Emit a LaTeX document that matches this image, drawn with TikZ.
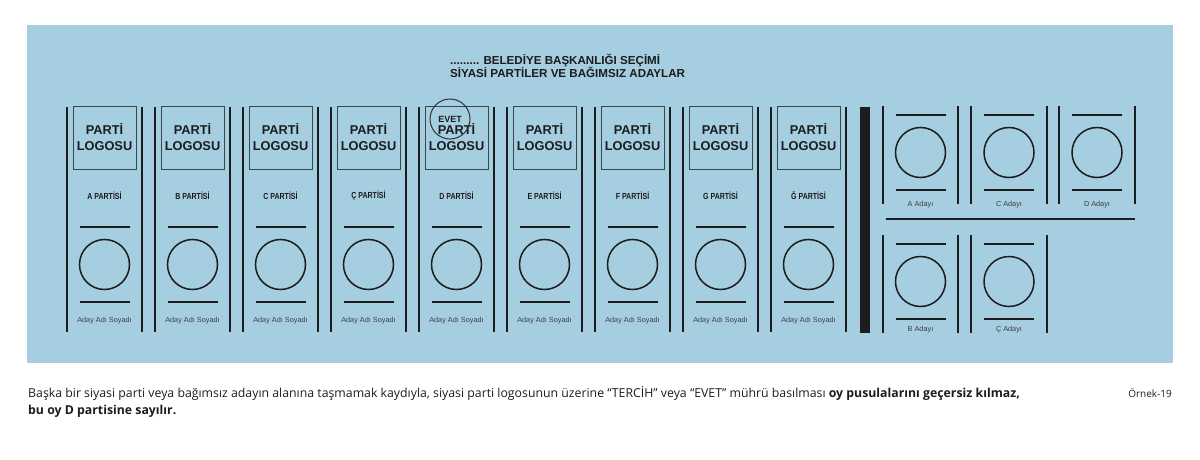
\documentclass[tikz,border=0pt]{standalone}
\usepackage{fontspec}
\setmainfont{Liberation Sans}
\newfontfamily\notefont{Open Sans}
\usepackage{tikz}

\definecolor{panelblue}{RGB}{166,206,225}
\definecolor{ink}{RGB}{28,28,28}
\definecolor{boxline}{RGB}{55,70,80}

\begin{document}
\begin{tikzpicture}[x=1pt, y=-1pt,
  bar/.style={ink, line width=1.8pt},
  logo/.style={draw=boxline, line width=.7pt, rectangle, minimum width=63pt, minimum height=63pt, inner sep=0pt, align=center, text=ink, font=\bfseries\fontsize{12.8}{16}\selectfont},
  parti/.style={inner sep=0pt, text=ink, font=\bfseries\fontsize{8.8}{10}\selectfont},
  oy/.style={draw=ink, line width=1.5pt, circle, minimum size=50pt, inner sep=0pt},
  aday/.style={inner sep=0pt, text=ink!85, font=\fontsize{7.3}{8}\selectfont},
  evet/.style={draw=ink!90, line width=1pt, circle, minimum size=40pt, inner sep=0pt, text=ink, font=\bfseries\fontsize{9}{10}\selectfont},
  title/.style={inner sep=0pt, align=left, text=ink, font=\bfseries\fontsize{11.6}{13}\selectfont},
  note/.style={inner sep=0pt, align=left, text=ink, font=\notefont\fontsize{12.3}{17}\selectfont}]
\useasboundingbox (0,0) rectangle (1200,460);
\fill[panelblue] (27,25) rectangle (1173,363);

\node[title, anchor=west] (title) at (450,65.5) {......... BELEDİYE BAŞKANLIĞI SEÇİMİ\\SİYASİ PARTİLER VE BAĞIMSIZ ADAYLAR};

% A
\draw[bar] (67,107) -- (67,332) (142,107) -- (142,332);
\node[logo] (logoA) at (104.5,137.5) {PARTİ\\LOGOSU};
\node[parti] (partiA) at (104.5,196) {\scalebox{.8}[1]{A PARTİSİ}};
\draw[bar] (79.5,227) -- (129.5,227) (79.5,302) -- (129.5,302);
\node[oy] (oyA) at (104.5,264.5) {};
\node[aday] (adayA) at (104.5,321) {Aday Adı Soyadı};
% B
\draw[bar] (155,107) -- (155,332) (230,107) -- (230,332);
\node[logo] (logoB) at (192.5,137.5) {PARTİ\\LOGOSU};
\node[parti] (partiB) at (192.5,196) {\scalebox{.8}[1]{B PARTİSİ}};
\draw[bar] (167.5,227) -- (217.5,227) (167.5,302) -- (217.5,302);
\node[oy] (oyB) at (192.5,264.5) {};
\node[aday] (adayB) at (192.5,321) {Aday Adı Soyadı};
% C
\draw[bar] (243,107) -- (243,332) (318,107) -- (318,332);
\node[logo] (logoC) at (280.5,137.5) {PARTİ\\LOGOSU};
\node[parti] (partiC) at (280.5,196) {\scalebox{.8}[1]{C PARTİSİ}};
\draw[bar] (255.5,227) -- (305.5,227) (255.5,302) -- (305.5,302);
\node[oy] (oyC) at (280.5,264.5) {};
\node[aday] (adayC) at (280.5,321) {Aday Adı Soyadı};
% Ç
\draw[bar] (331,107) -- (331,332) (406,107) -- (406,332);
\node[logo] (logoCc) at (368.5,137.5) {PARTİ\\LOGOSU};
\node[parti] (partiCc) at (368.5,196) {\scalebox{.8}[1]{Ç PARTİSİ}};
\draw[bar] (343.5,227) -- (393.5,227) (343.5,302) -- (393.5,302);
\node[oy] (oyCc) at (368.5,264.5) {};
\node[aday] (adayCc) at (368.5,321) {Aday Adı Soyadı};
% D
\draw[bar] (419,107) -- (419,332) (494,107) -- (494,332);
\node[logo] (logoD) at (456.5,137.5) {PARTİ\\LOGOSU};
\node[evet] (evet) at (450,119) {EVET};
\node[parti] (partiD) at (456.5,196) {\scalebox{.8}[1]{D PARTİSİ}};
\draw[bar] (431.5,227) -- (481.5,227) (431.5,302) -- (481.5,302);
\node[oy] (oyD) at (456.5,264.5) {};
\node[aday] (adayD) at (456.5,321) {Aday Adı Soyadı};
% E
\draw[bar] (507,107) -- (507,332) (582,107) -- (582,332);
\node[logo] (logoE) at (544.5,137.5) {PARTİ\\LOGOSU};
\node[parti] (partiE) at (544.5,196) {\scalebox{.8}[1]{E PARTİSİ}};
\draw[bar] (519.5,227) -- (569.5,227) (519.5,302) -- (569.5,302);
\node[oy] (oyE) at (544.5,264.5) {};
\node[aday] (adayE) at (544.5,321) {Aday Adı Soyadı};
% F
\draw[bar] (595,107) -- (595,332) (670,107) -- (670,332);
\node[logo] (logoF) at (632.5,137.5) {PARTİ\\LOGOSU};
\node[parti] (partiF) at (632.5,196) {\scalebox{.8}[1]{F PARTİSİ}};
\draw[bar] (607.5,227) -- (657.5,227) (607.5,302) -- (657.5,302);
\node[oy] (oyF) at (632.5,264.5) {};
\node[aday] (adayF) at (632.5,321) {Aday Adı Soyadı};
% G
\draw[bar] (683,107) -- (683,332) (758,107) -- (758,332);
\node[logo] (logoG) at (720.5,137.5) {PARTİ\\LOGOSU};
\node[parti] (partiG) at (720.5,196) {\scalebox{.8}[1]{G PARTİSİ}};
\draw[bar] (695.5,227) -- (745.5,227) (695.5,302) -- (745.5,302);
\node[oy] (oyG) at (720.5,264.5) {};
\node[aday] (adayG) at (720.5,321) {Aday Adı Soyadı};
% Ğ
\draw[bar] (771,107) -- (771,332) (846,107) -- (846,332);
\node[logo] (logoGg) at (808.5,137.5) {PARTİ\\LOGOSU};
\node[parti] (partiGg) at (808.5,196) {\scalebox{.8}[1]{Ğ PARTİSİ}};
\draw[bar] (783.5,227) -- (833.5,227) (783.5,302) -- (833.5,302);
\node[oy] (oyGg) at (808.5,264.5) {};
\node[aday] (adayGg) at (808.5,321) {Aday Adı Soyadı};

% bagimsiz adaylar
\fill[ink] (860,107) rectangle (870,333);
\draw[bar] (883,106) -- (883,204) (958,106) -- (958,204);
\draw[bar] (895.5,115) -- (945.5,115) (895.5,190) -- (945.5,190);
\node[oy] (oyAa) at (920.5,152.5) {};
\node[aday] (adayAa) at (920.5,205) {A Adayı};
\draw[bar] (971,106) -- (971,204) (1047,106) -- (1047,204);
\draw[bar] (984,115) -- (1034,115) (984,190) -- (1034,190);
\node[oy] (oyCa) at (1009,152.5) {};
\node[aday] (adayCa) at (1009,205) {C Adayı};
\draw[bar] (1059,106) -- (1059,204) (1135,106) -- (1135,204);
\draw[bar] (1072,115) -- (1122,115) (1072,190) -- (1122,190);
\node[oy] (oyDa) at (1097,152.5) {};
\node[aday] (adayDa) at (1097,205) {D Adayı};
\draw[bar, line width=2.2pt] (886,219) -- (1135,219);
\draw[bar] (883,235) -- (883,333) (958,235) -- (958,333);
\draw[bar] (895.5,244) -- (945.5,244) (895.5,319) -- (945.5,319);
\node[oy] (oyBa) at (920.5,281.5) {};
\node[aday] (adayBa) at (920.5,330) {B Adayı};
\draw[bar] (971,235) -- (971,333) (1047,235) -- (1047,333);
\draw[bar] (984,244) -- (1034,244) (984,319) -- (1034,319);
\node[oy] (oyCca) at (1009,281.5) {};
\node[aday] (adayCca) at (1009,330) {Ç Adayı};

\node[note, anchor=west] (note) at (28,401.5) {Başka bir siyasi parti veya bağımsız adayın alanına taşmamak kaydıyla, siyasi parti logosunun üzerine “TERCİH” veya “EVET” mührü basılması \textbf{oy pusulalarını geçersiz kılmaz,}\\\textbf{bu oy D partisine sayılır.}};
\node[note, anchor=east, font=\notefont\fontsize{10}{12}\selectfont] (ornek) at (1172,393) {Örnek-19};

\end{tikzpicture}
\end{document}
